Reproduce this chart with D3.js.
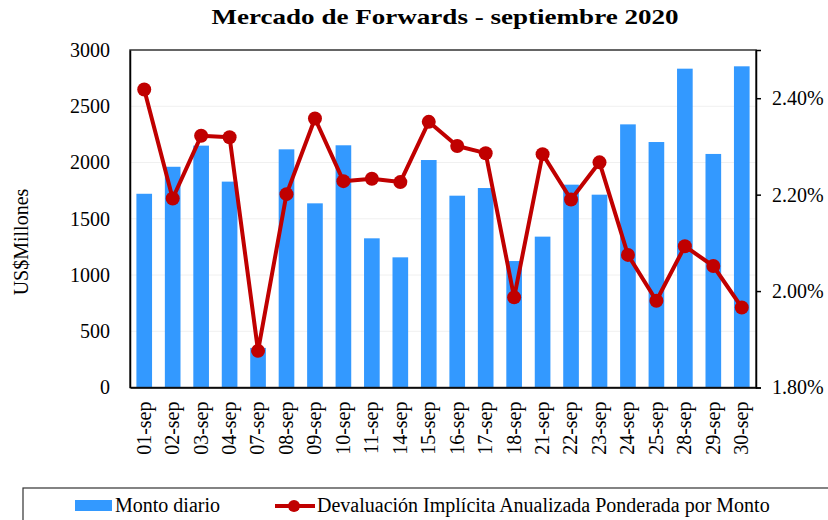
<!DOCTYPE html>
<html>
<head>
<meta charset="utf-8">
<script src="https://cdn.jsdelivr.net/npm/d3@7"></script>
<style>
  body { margin: 0; background: #fff; }
  svg, svg text { font-family: "Liberation Serif", "Times New Roman", "DejaVu Serif", serif; }
</style>
</head>
<body>
<div id="chart"></div>
<script>
// Data
const days = ["01-sep", "02-sep", "03-sep", "04-sep", "07-sep", "08-sep", "09-sep", "10-sep",
    "11-sep", "14-sep", "15-sep", "16-sep", "17-sep", "18-sep", "21-sep", "22-sep",
    "23-sep", "24-sep", "25-sep", "28-sep", "29-sep", "30-sep"];
const montoDiario = [1722, 1962, 2150, 1830, 352, 2117, 1637, 2153, 1326, 1157, 2022,
    1705, 1773, 1124, 1341, 1803, 1714, 2339, 2182, 2834, 2076, 2855];
const devaluacion = [2.418, 2.192, 2.322, 2.319, 1.876, 2.201, 2.358, 2.228, 2.233, 2.226,
    2.351, 2.301, 2.286, 1.987, 2.284, 2.190, 2.267, 2.075, 1.980, 2.093, 2.052, 1.966];
const leftTicks = [0, 500, 1000, 1500, 2000, 2500, 3000];
const rightTicks = [1.8, 2.0, 2.2, 2.4];

// Configuration
const config = {
    width: 828,
    height: 520,
    plot: { left: 130, right: 756, top: 50, bottom: 387.5 },
    font: '"Liberation Serif", "Times New Roman", serif',
    colors: { bar: "#3399FF", line: "#C00000", grid: "#f0f0f0", axis: "#000" }
};

const svg = d3.select("#chart").append("svg")
    .attr("width", config.width)
    .attr("height", config.height);

const p = config.plot;

// Scales
const x = d3.scaleBand()
    .domain(days)
    .range([p.left, p.right])
    .paddingInner(0.45)
    .paddingOuter(0.225);

const yLeft = d3.scaleLinear().domain([0, 3000]).range([p.bottom, p.top]);
const yRight = d3.scaleLinear().domain([1.8, 2.5]).range([p.bottom, p.top]);

// Gridlines
svg.append("g")
    .selectAll("line")
    .data(leftTicks.filter(t => t > 0 && t < 3000))
    .join("line")
    .attr("x1", p.left).attr("x2", p.right)
    .attr("y1", d => yLeft(d)).attr("y2", d => yLeft(d))
    .attr("stroke", config.colors.grid)
    .attr("stroke-width", 1);

// Bars
svg.append("g")
    .selectAll("rect")
    .data(days.map((d, i) => ({ day: d, value: montoDiario[i] })))
    .join("rect")
    .attr("x", d => x(d.day))
    .attr("y", d => yLeft(d.value))
    .attr("width", x.bandwidth())
    .attr("height", d => p.bottom - yLeft(d.value))
    .attr("fill", config.colors.bar);

// Plot frame
svg.append("rect")
    .attr("x", p.left).attr("y", p.top)
    .attr("width", p.right - p.left).attr("height", p.bottom - p.top)
    .attr("fill", "none")
    .attr("stroke", "#333")
    .attr("stroke-width", 1.5);

// Line
const lineData = days.map((d, i) => ({ day: d, value: devaluacion[i] }));
const line = d3.line()
    .x(d => x(d.day) + x.bandwidth() / 2)
    .y(d => yRight(d.value));

svg.append("path")
    .datum(lineData)
    .attr("d", line)
    .attr("fill", "none")
    .attr("stroke", config.colors.line)
    .attr("stroke-width", 4)
    .attr("stroke-linejoin", "round");

svg.append("g")
    .selectAll("circle")
    .data(lineData)
    .join("circle")
    .attr("cx", d => x(d.day) + x.bandwidth() / 2)
    .attr("cy", d => yRight(d.value))
    .attr("r", 7)
    .attr("fill", config.colors.line);

// Axis text styling helper
function styleAxisText(sel) {
    sel.attr("font-family", null)
        .style("font-family", config.font)
        .style("font-size", "20px")
        .attr("fill", "#000");
}

// Left axis
const leftAxis = svg.append("g")
    .attr("transform", `translate(${p.left},0)`)
    .call(d3.axisLeft(yLeft).tickValues(leftTicks).tickSize(0).tickPadding(20)
        .tickFormat(d3.format("d")));
leftAxis.attr("font-family", null);
leftAxis.select(".domain").attr("stroke", config.colors.axis).attr("stroke-width", 1.5);
styleAxisText(leftAxis.selectAll("text"));

// Right axis
const rightAxis = svg.append("g")
    .attr("transform", `translate(${p.right},0)`)
    .call(d3.axisRight(yRight).tickValues(rightTicks).tickSize(5).tickPadding(11)
        .tickFormat(d => d.toFixed(2) + "%"));
rightAxis.attr("font-family", null);
rightAxis.select(".domain").attr("stroke", config.colors.axis).attr("stroke-width", 1.5);
rightAxis.selectAll("line").attr("stroke", config.colors.axis).attr("stroke-width", 1.5);
styleAxisText(rightAxis.selectAll("text"));

// Bottom axis
const bottomAxis = svg.append("g")
    .attr("transform", `translate(0,${p.bottom})`)
    .call(d3.axisBottom(x).tickSize(0));
bottomAxis.attr("font-family", null);
bottomAxis.select(".domain").attr("stroke", config.colors.axis).attr("stroke-width", 1.5);
styleAxisText(bottomAxis.selectAll("text"));
bottomAxis.selectAll("text")
    .attr("text-anchor", "end")
    .attr("transform", "rotate(-90)")
    .attr("x", -14)
    .attr("y", 0)
    .attr("dy", "0.32em");

// Title (glyphs drawn wider, as in the original)
svg.append("text")
    .attr("transform", "translate(445,24) scale(1.23,1)")
    .attr("text-anchor", "middle")
    .style("font-family", config.font)
    .style("font-size", "22px")
    .style("font-weight", "bold")
    .text("Mercado de Forwards - septiembre 2020");

// Y axis title
svg.append("text")
    .attr("transform", "translate(28,242) rotate(-90)")
    .attr("text-anchor", "middle")
    .style("font-family", config.font)
    .style("font-size", "20px")
    .text("US$Millones");

// Legend
const legend = svg.append("g");
legend.append("rect")
    .attr("x", 23).attr("y", 488)
    .attr("width", 830).attr("height", 60)
    .attr("fill", "none")
    .attr("stroke", "#333")
    .attr("stroke-width", 1.2);

legend.append("rect")
    .attr("x", 75).attr("y", 500)
    .attr("width", 37).attr("height", 11)
    .attr("fill", config.colors.bar);
legend.append("text")
    .attr("x", 115).attr("y", 512)
    .style("font-family", config.font)
    .style("font-size", "20px")
    .text("Monto diario");

legend.append("line")
    .attr("x1", 275).attr("x2", 315)
    .attr("y1", 506).attr("y2", 506)
    .attr("stroke", config.colors.line)
    .attr("stroke-width", 4);
legend.append("circle")
    .attr("cx", 294).attr("cy", 506).attr("r", 6)
    .attr("fill", config.colors.line);
legend.append("text")
    .attr("x", 317).attr("y", 512)
    .style("font-family", config.font)
    .style("font-size", "20px")
    .text("Devaluación Implícita Anualizada Ponderada por Monto");
</script>
</body>
</html>
